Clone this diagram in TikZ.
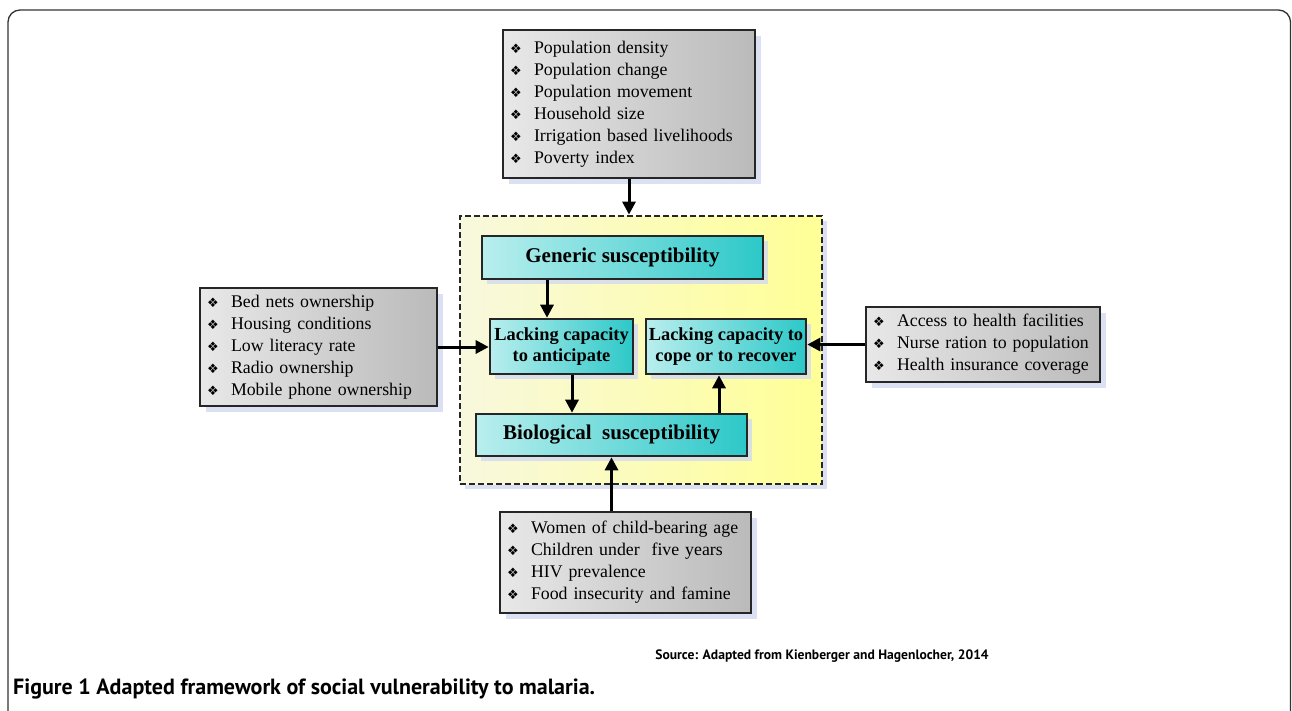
\documentclass[tikz,border=0pt]{standalone}
\usepackage{fontspec}
\setmainfont{Liberation Serif}
\newfontfamily\symfont{DejaVu Sans}
\newfontfamily\capfont{PT Sans}
\usetikzlibrary{arrows.meta,shadows}

\definecolor{shadowblue}{RGB}{210,218,240}
\definecolor{tealdark}{RGB}{45,200,200}
\definecolor{teallight}{RGB}{185,238,238}
\definecolor{yellowlight}{RGB}{248,248,222}
\definecolor{yellowdark}{RGB}{255,255,150}

\newcommand{\itm}[1]{\makebox[24pt][l]{\symfont\fontsize{13}{13}\selectfont\char"2756}#1}

\tikzset{
  factorbox/.style={draw=black!85, line width=2.6pt, left color=black!9, right color=black!27,
    drop shadow={shadow xshift=6pt, shadow yshift=-6pt, fill=shadowblue, opacity=0.8},
    align=left, inner xsep=7pt, inner ysep=0pt, font=\fontsize{17.8}{22}\selectfont},
  tealbox/.style={draw=black!85, line width=2.6pt, left color=teallight, right color=tealdark,
    drop shadow={shadow xshift=5pt, shadow yshift=-5pt, fill=shadowblue, opacity=0.8},
    align=center, inner sep=0pt, font=\bfseries\fontsize{18.4}{21}\selectfont},
  arr/.style={line width=3pt, -{Triangle[length=13pt,width=13pt]}},
}

\begin{document}
\begin{tikzpicture}[x=1pt,y=-1pt]

\useasboundingbox (0,0) rectangle (1292,710);

%outer frame
\draw [line width=1.3pt, black!80, rounded corners=12pt] (8,712)--(8,10)--(1290.5,10)--(1290.5,712);

%yellow frame
\node [draw=black!85, line width=2.8pt, dash pattern=on 6pt off 3pt,
       left color=yellowlight, right color=yellowdark,
       drop shadow={shadow xshift=5pt, shadow yshift=-5pt, fill=shadowblue, opacity=0.8},
       minimum width=362pt, minimum height=268pt] (frame) at (641,350) {};

%inner boxes
\node [tealbox, minimum width=281pt, minimum height=43pt, font=\bfseries\fontsize{21}{22}\selectfont] (generic) at (622.5,257.5) {Generic susceptibility};
\node [tealbox, minimum width=143pt, minimum height=55pt] (anticip) at (561.5,346.5) {Lacking capacity\\to anticipate};
\node [tealbox, minimum width=160pt, minimum height=55pt] (cope) at (726,346.5) {Lacking capacity to\\cope or to recover};
\node [tealbox, minimum width=271pt, minimum height=42pt, font=\bfseries\fontsize{21}{22}\selectfont] (bio) at (611.5,435) {Biological\ \ susceptibility};

%outer boxes
\node [factorbox, text width=238pt, minimum height=148pt] (topbox) at (629,104) {%
  \itm{Population density}\\
  \itm{Population change}\\
  \itm{Population movement}\\
  \itm{Household size}\\
  \itm{Irrigation based livelihoods}\\
  \itm{Poverty index}};
\node [factorbox, text width=223pt, minimum height=118pt] (leftbox) at (318.5,347) {%
  \itm{Bed nets ownership}\\
  \itm{Housing conditions}\\
  \itm{Low literacy rate}\\
  \itm{Radio ownership}\\
  \itm{Mobile phone ownership}};
\node [factorbox, text width=220pt, minimum height=75pt] (rightbox) at (983,344.5) {%
  \itm{Access to health facilities}\\
  \itm{Nurse ration to population}\\
  \itm{Health insurance coverage}};
\node [factorbox, text width=237pt, minimum height=101pt] (botbox) at (625.5,562.5) {%
  \itm{Women of child-bearing age}\\
  \itm{Children under\ \ five years}\\
  \itm{HIV prevalence}\\
  \itm{Food insecurity and famine}};

%arrows
\draw [arr] (topbox.south) -- (topbox.south |- frame.north);
\draw [arr] ([xshift=-14.5pt]anticip.north |- generic.south) -- ([xshift=-14.5pt]anticip.north);
\draw [arr] ([xshift=10.5pt]anticip.south) -- ([xshift=10.5pt]anticip.south |- bio.north);
\draw [arr] ([xshift=-7pt]cope.south |- bio.north) -- ([xshift=-7pt]cope.south);
\draw [arr] (leftbox.east) -- (leftbox.east -| anticip.west);
\draw [arr] (rightbox.west) -- (rightbox.west -| cope.east);
\draw [arr] (bio.south |- botbox.north) -- (bio.south);

%labels
\node [font=\capfont\bfseries\fontsize{13.6}{15}\selectfont] (source) at (822,656) {Source: Adapted from Kienberger and Hagenlocher, 2014};
\node [anchor=west, inner sep=0pt, font=\capfont\bfseries\fontsize{22}{24}\selectfont] (caption) at (13,689) {Figure 1 Adapted framework of social vulnerability to malaria.};

\end{tikzpicture}
\end{document}
